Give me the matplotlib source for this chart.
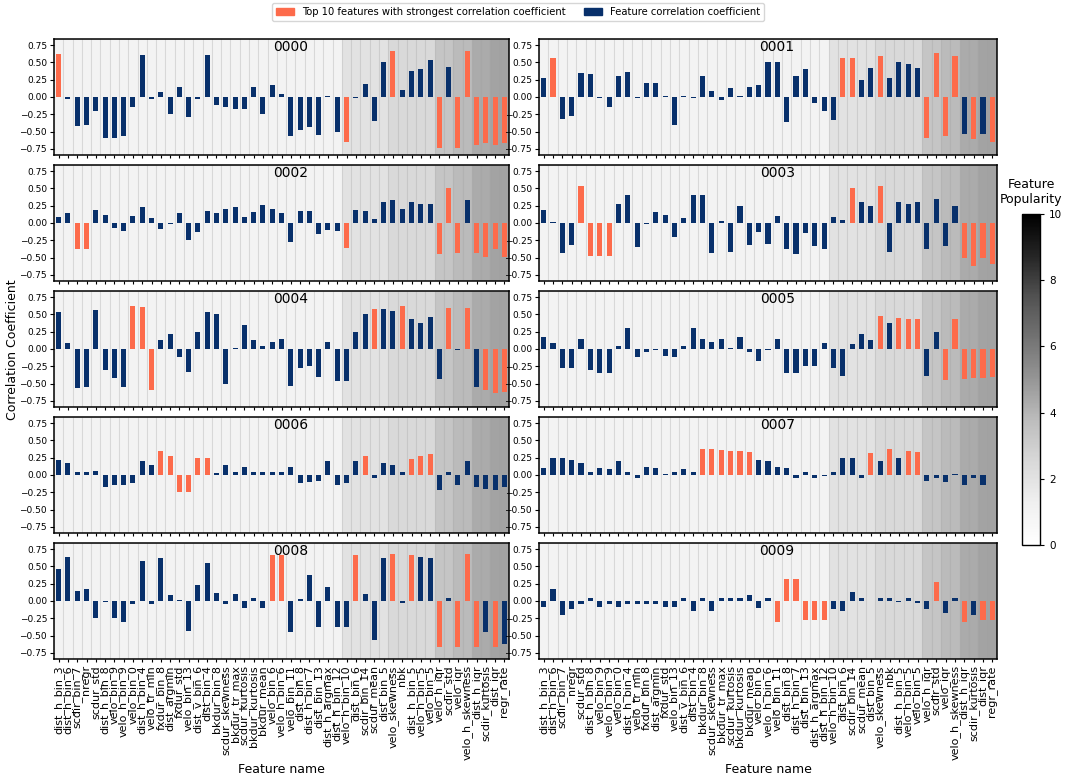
import numpy as np
import matplotlib
matplotlib.use("Agg")
import matplotlib.pyplot as plt
from matplotlib.patches import Patch
from matplotlib.colors import Normalize
from matplotlib.cm import ScalarMappable

features = [
    "dist_h_bin_3", "dist_h_bin_6", "scdir_bin_7", "nregr", "scdur_std",
    "dist_h_bin_8", "velo_bin_9", "velo_h_bin_9", "velo_bin_0", "dist_h_bin_4",
    "velo_tr_min", "fxdur_bin_8", "dist_argmin", "fxdur_std", "velo_bin_13",
    "dist_v_bin_6", "dist_bin_4", "bkdur_bin_8", "scdur_skewness", "bkdur_tr_max",
    "scdur_kurtosis", "bkdur_kurtosis", "bkdur_mean", "velo_bin_6", "velo_h_bin_6",
    "velo_bin_11", "dist_bin_8", "dist_h_bin_7", "dist_bin_13", "dist_h_argmax",
    "dist_h_bin_12", "velo_h_bin_10", "dist_bin_6", "scdir_bin_14", "scdur_mean",
    "dist_bin_5", "velo_skewness", "nbk", "dist_h_bin_5", "velo_h_bin_5",
    "velo_bin_5", "velo_h_iqr", "scdir_std", "velo_iqr", "velo_h_skewness",
    "dist_h_iqr", "scdir_kurtosis", "dist_iqr", "regr_rate",
]

# popularity score of every feature (drawn as the column shading)
popularity = ([1.0] * 31 + [2.0] * 5 + [2.5] * 5 + [3.4] * 2 + [3.8] * 2
              + [4.3] * 2 + [4.6] * 2)

participants = ["0000", "0001", "0002", "0003", "0004",
                "0005", "0006", "0007", "0008", "0009"]

corr_0000 = [0.63, -0.03, -0.42, -0.40, -0.20, -0.59, -0.59, -0.57, -0.14, 0.61,
             -0.03, 0.07, -0.24, 0.14, -0.29, -0.03, 0.61, -0.11, -0.14, -0.18,
             -0.18, 0.14, -0.24, 0.17, 0.04, -0.56, -0.48, -0.43, -0.55, 0.01,
             -0.51, -0.65, -0.01, 0.19, -0.35, 0.50, 0.66, 0.10, 0.38, 0.41,
             0.54, -0.74, 0.44, -0.74, 0.67, -0.69, -0.66, -0.69, -0.66]
corr_0001 = [0.27, 0.56, -0.32, -0.27, 0.35, 0.34, -0.02, -0.14, 0.30, 0.36,
             -0.02, 0.20, 0.21, 0.01, -0.41, 0.01, -0.02, 0.31, 0.08, -0.05,
             0.13, 0.02, 0.14, 0.18, 0.51, 0.51, -0.36, 0.30, 0.40, -0.08,
             -0.20, -0.34, 0.57, 0.56, 0.24, 0.42, 0.60, 0.27, 0.50, 0.48,
             0.42, -0.60, 0.64, -0.57, 0.60, -0.54, -0.61, -0.54, -0.65]
corr_0002 = [0.08, 0.15, -0.38, -0.37, 0.19, 0.12, -0.07, -0.12, 0.10, 0.23,
             0.07, -0.08, -0.02, 0.14, -0.25, -0.13, 0.17, 0.14, 0.20, 0.23,
             0.08, 0.16, 0.26, 0.20, 0.14, -0.28, 0.17, 0.18, -0.16, -0.10,
             -0.12, -0.36, 0.19, 0.18, 0.06, 0.30, 0.33, 0.21, 0.30, 0.28,
             0.28, -0.45, 0.50, -0.43, 0.34, -0.44, -0.49, -0.38, -0.49]
corr_0003 = [0.19, 0.02, -0.43, -0.32, 0.53, -0.48, -0.48, -0.48, 0.27, 0.40,
             -0.35, -0.02, 0.16, 0.12, -0.20, 0.07, 0.40, 0.41, -0.43, 0.03,
             -0.42, 0.25, -0.32, -0.13, -0.30, 0.10, -0.37, -0.45, -0.15, -0.33,
             -0.37, 0.08, 0.04, 0.50, 0.30, 0.25, 0.53, -0.42, 0.30, 0.28,
             0.30, -0.38, 0.35, -0.33, 0.25, -0.50, -0.62, -0.50, -0.60]
corr_0004 = [0.53, 0.08, -0.56, -0.55, 0.56, -0.30, -0.42, -0.55, 0.62, 0.61,
             -0.59, 0.13, 0.22, -0.12, -0.33, 0.25, 0.54, 0.50, -0.50, 0.01,
             0.35, 0.13, 0.05, 0.10, 0.15, -0.53, -0.27, -0.25, -0.40, 0.10,
             -0.47, -0.47, 0.25, 0.50, 0.58, 0.575, 0.55, 0.62, 0.43, 0.38,
             0.46, -0.43, 0.60, -0.02, 0.60, -0.55, -0.60, -0.63, -0.62]
corr_0005 = [0.17, 0.08, -0.28, -0.27, 0.15, -0.30, -0.35, -0.35, 0.05, 0.30,
             -0.12, -0.05, -0.02, -0.10, -0.12, 0.05, 0.30, 0.15, 0.10, 0.15,
             0.02, 0.18, -0.05, -0.18, -0.02, 0.15, -0.35, -0.35, -0.25, -0.25,
             0.08, -0.28, -0.39, 0.07, 0.22, 0.13, 0.48, 0.38, 0.45, 0.44,
             0.43, -0.39, 0.25, -0.45, 0.43, -0.43, -0.42, -0.42, -0.40]
corr_0006 = [0.22, 0.18, 0.05, 0.04, 0.06, -0.18, -0.15, -0.15, -0.12, 0.20,
             0.15, 0.35, 0.27, -0.25, -0.25, 0.24, 0.24, 0.03, 0.15, 0.05,
             0.12, 0.05, 0.05, 0.05, 0.05, 0.12, -0.12, -0.10, -0.08, 0.20,
             -0.15, -0.12, 0.20, 0.27, -0.05, 0.18, 0.15, 0.05, 0.23, 0.27,
             0.30, -0.21, 0.05, -0.15, 0.21, -0.18, -0.20, -0.21, -0.18]
corr_0007 = [0.10, 0.25, 0.25, 0.22, 0.18, 0.05, 0.10, 0.08, 0.20, 0.05,
             -0.05, 0.12, 0.10, 0.02, 0.05, 0.08, 0.05, 0.38, 0.37, 0.36,
             0.35, 0.35, 0.34, 0.22, 0.20, 0.12, 0.10, -0.05, 0.05, -0.05,
             -0.02, 0.05, 0.25, 0.25, -0.05, 0.32, 0.20, 0.37, 0.25, 0.35,
             0.34, -0.08, -0.05, -0.10, 0.02, -0.15, -0.05, -0.15, 0.00]
corr_0008 = [0.47, 0.64, 0.15, 0.17, -0.25, -0.02, -0.25, -0.30, -0.05, 0.58,
             -0.05, 0.63, 0.08, 0.02, -0.43, 0.23, 0.55, 0.12, -0.04, 0.10,
             -0.10, 0.05, -0.10, 0.67, 0.66, -0.45, 0.03, 0.38, -0.38, 0.20,
             -0.37, -0.37, 0.67, 0.10, -0.57, 0.63, 0.68, -0.03, 0.66, 0.64,
             0.62, -0.66, 0.05, -0.66, 0.68, -0.66, -0.45, -0.66, -0.62]
corr_0009 = [-0.08, 0.18, -0.20, -0.12, -0.05, 0.05, -0.08, -0.05, -0.08, -0.05,
             -0.05, -0.05, -0.05, -0.08, -0.08, 0.05, -0.15, 0.05, -0.15, 0.05,
             0.05, 0.05, 0.08, -0.10, 0.05, -0.31, 0.32, 0.32, -0.28, -0.28,
             -0.28, -0.12, -0.15, 0.13, 0.05, 0.00, 0.05, 0.05, -0.02, 0.05,
             -0.03, -0.12, 0.27, -0.18, 0.05, -0.30, -0.20, -0.27, -0.27]

corr = np.array([corr_0000, corr_0001, corr_0002, corr_0003, corr_0004,
                 corr_0005, corr_0006, corr_0007, corr_0008, corr_0009])

# highlight the ten strongest (absolute) correlations of every participant
n_top = 10
top = np.zeros_like(corr, dtype=bool)
for r, row in enumerate(corr):
    top[r, np.argsort(-np.abs(row), kind="stable")[:n_top]] = True

c_top = "#fd6b4b"
c_bar = "#08306b"
cmap = plt.get_cmap("Greys")
norm = Normalize(vmin=0, vmax=10)
bg_colors = cmap(norm(np.array(popularity)))
ylim = 0.84

W, H = 1067, 776
fig = plt.figure(figsize=(W / 100, H / 100), dpi=100)

col_x = [54, 539]
col_w = [455, 458]
row_top = [39, 165, 291, 417, 543]
row_h = 116
x = np.arange(len(features))

for k, name in enumerate(participants):
    r, c = divmod(k, 2)
    ax = fig.add_axes([col_x[c] / W, 1 - (row_top[r] + row_h) / H,
                       col_w[c] / W, row_h / H])
    ax.bar(x, 2 * ylim, bottom=-ylim, width=1.0,
           color=bg_colors, edgecolor=(0, 0, 0, 0.08),
           linewidth=0.8, zorder=0)
    ax.bar(x, corr[k], width=0.55,
           color=np.where(top[k], c_top, c_bar), zorder=2)
    ax.set_xlim(-0.5, len(features) - 0.5)
    ax.set_ylim(-ylim, ylim)
    ax.set_yticks([-0.75, -0.5, -0.25, 0, 0.25, 0.5, 0.75])
    ax.tick_params(axis="y", labelsize=6.5, length=3, width=0.8, pad=2)
    ax.tick_params(axis="x", length=2.5, width=0.8, pad=2)
    ax.set_xticks(x)
    if r == 4:
        ax.set_xticklabels(features, rotation=90, fontsize=8)
        ax.set_xlabel("Feature name", fontsize=9, labelpad=2)
    else:
        ax.set_xticklabels([])
    for s in ax.spines.values():
        s.set_linewidth(1.1)
    ax.text(0.52, 0.935, name, transform=ax.transAxes, ha="center",
            va="center", fontsize=10)

fig.text(13 / W, 0.55, "Correlation Coefficient", rotation=90,
         ha="center", va="center", fontsize=9)

fig.legend(handles=[Patch(color=c_top, label="Top 10 features with strongest correlation coefficient"),
                    Patch(color=c_bar, label="Feature correlation coefficient")],
           loc="center", bbox_to_anchor=(518 / W, 1 - 12 / H), ncol=2,
           fontsize=7.2, handlelength=1.8, columnspacing=1.8, frameon=True,
           borderpad=0.4)

cax = fig.add_axes([1022 / W, 1 - 545 / H, 18 / W, 331 / H])
cb = fig.colorbar(ScalarMappable(norm=norm, cmap=cmap), cax=cax,
                  ticks=[0, 2, 4, 6, 8, 10])
cb.ax.tick_params(labelsize=7.5, length=3)
cb.outline.set_linewidth(1.0)
cax.set_title("Feature\nPopularity", fontsize=9, pad=8)

fig.savefig("out.png", dpi=100)
